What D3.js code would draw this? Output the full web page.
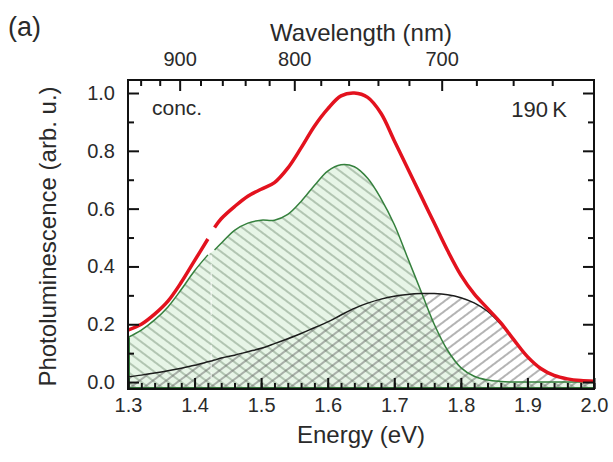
<!DOCTYPE html>
<html>
<head>
<meta charset="utf-8">
<script src="https://cdn.jsdelivr.net/npm/d3@7"></script>
<style>
  html, body { margin: 0; padding: 0; background: #fff; }
  svg { display: block; font-family: "Liberation Sans", Arial, sans-serif; }
</style>
</head>
<body>
<script>
// energies (eV); the 1.425 entry marks the break in the measured spectrum
var energy = [1.30, 1.32, 1.34, 1.36, 1.38, 1.40, 1.42, 1.425, 1.43, 1.44,
  1.46, 1.48, 1.50, 1.52, 1.54, 1.56, 1.58, 1.60, 1.62, 1.64,
  1.66, 1.68, 1.70, 1.72, 1.74, 1.76, 1.78, 1.80, 1.82, 1.84,
  1.86, 1.88, 1.90, 1.92, 1.94, 1.96, 1.98, 2.00];

var totalPL = [0.18, 0.20, 0.235, 0.28, 0.345, 0.42, 0.495, null, 0.535, 0.565,
  0.607, 0.643, 0.667, 0.69, 0.74, 0.81, 0.885, 0.945, 0.99, 1.00,
  0.985, 0.93, 0.835, 0.74, 0.645, 0.55, 0.455, 0.37, 0.305, 0.255,
  0.205, 0.145, 0.088, 0.047, 0.023, 0.011, 0.005, 0.003];

var greenPeak = [0.155, 0.18, 0.215, 0.26, 0.32, 0.385, 0.44, null, 0.457, 0.48,
  0.525, 0.55, 0.56, 0.56, 0.58, 0.625, 0.68, 0.73, 0.752, 0.745,
  0.705, 0.635, 0.545, 0.43, 0.315, 0.2, 0.11, 0.05, 0.02, 0.007,
  0.002, 0, 0, 0, 0, 0, 0, 0];

var blackPeak = [0.018, 0.024, 0.031, 0.039, 0.048, 0.058, 0.070, 0.073, 0.076, 0.083,
  0.093, 0.105, 0.117, 0.133, 0.15, 0.168, 0.188, 0.208, 0.232, 0.255,
  0.273, 0.287, 0.297, 0.303, 0.306, 0.306, 0.302, 0.292, 0.274, 0.245,
  0.2, 0.145, 0.088, 0.047, 0.023, 0.011, 0.005, 0.003];

var energyTicks = [1.3, 1.4, 1.5, 1.6, 1.7, 1.8, 1.9, 2.0];
var plTicks = [0.0, 0.2, 0.4, 0.6, 0.8, 1.0];
var wavelengthTicks = [900, 800, 700];
var wavelengthMinor = [940, 920, 880, 860, 840, 820, 780, 760, 740, 720, 680, 660, 640];

var width = 613, height = 462;
var padL = 128, padR = 594, padT = 80, padB = 389;
var hc = 1239.84;

var svg = d3.select('body').append('svg')
    .attr('width', width)
    .attr('height', height);

var x = d3.scaleLinear().domain([1.3, 2.0]).range([padL, padR]);
var y = d3.scaleLinear().domain([-0.024, 1.045]).range([padB, padT]);

var rows = energy.map(function(e, i) {
  return { e: e, red: totalPL[i], green: greenPeak[i], black: blackPeak[i] };
});
var greenRows = rows.filter(function(d) { return d.green != null; });

// hatch patterns
var defs = svg.append('defs');
function hatch(id, angle, bg, stroke) {
  var p = defs.append('pattern')
      .attr('id', id)
      .attr('patternUnits', 'userSpaceOnUse')
      .attr('width', 8).attr('height', 8)
      .attr('patternTransform', 'rotate(' + angle + ')');
  if (bg) p.append('rect').attr('width', 8).attr('height', 8).attr('fill', bg);
  p.append('line')
      .attr('x1', 0).attr('y1', 4).attr('x2', 8).attr('y2', 4)
      .attr('stroke', stroke).attr('stroke-width', 1);
}
hatch('hatchGreen', 37, '#e7f5e7', '#7d957d');
hatch('hatchBlack', -37, null, '#6a6a6a');

svg.append('clipPath').attr('id', 'plotClip')
  .append('rect')
    .attr('x', padL).attr('y', padT)
    .attr('width', padR - padL).attr('height', padB - padT);

var plot = svg.append('g').attr('clip-path', 'url(#plotClip)');

var base = y.domain()[0];
var smooth = d3.curveCatmullRom.alpha(0.5);

var greenArea = d3.area()
    .x(function(d) { return x(d.e); })
    .y0(y(base))
    .y1(function(d) { return y(d.green); })
    .curve(smooth);

var blackArea = d3.area()
    .x(function(d) { return x(d.e); })
    .y0(y(base))
    .y1(function(d) { return y(d.black); })
    .curve(smooth);

plot.append('path')
    .datum(greenRows)
    .attr('d', greenArea)
    .attr('fill', 'url(#hatchGreen)');

plot.append('path')
    .datum(rows)
    .attr('d', blackArea)
    .attr('fill', 'url(#hatchBlack)');

// faint streak left by the missing data point
plot.append('line')
    .attr('x1', x(energy[7])).attr('x2', x(energy[7]))
    .attr('y1', y(greenPeak[6])).attr('y2', y(0))
    .attr('stroke', '#fff').attr('stroke-width', 1.5)
    .attr('stroke-opacity', 0.6)
    .attr('stroke-dasharray', '6,3');

function curve(key) {
  return d3.line()
      .defined(function(d) { return d[key] != null; })
      .x(function(d) { return x(d.e); })
      .y(function(d) { return y(d[key]); })
      .curve(smooth);
}

// green outline with closed left edge down to the baseline
plot.append('path')
    .datum(rows)
    .attr('d', curve('green'))
    .attr('fill', 'none')
    .attr('stroke', '#35803d')
    .attr('stroke-width', 1.5);

plot.append('line')
    .attr('x1', x(1.3) + 1).attr('x2', x(1.3) + 1)
    .attr('y1', y(greenPeak[0])).attr('y2', y(base))
    .attr('stroke', '#35803d').attr('stroke-width', 2);

plot.append('line')
    .attr('x1', padL).attr('x2', padR)
    .attr('y1', padB - 1).attr('y2', padB - 1)
    .attr('stroke', '#2f6f35').attr('stroke-width', 2);

plot.append('path')
    .datum(rows)
    .attr('d', curve('black'))
    .attr('fill', 'none')
    .attr('stroke', '#1c1c1c')
    .attr('stroke-width', 1.5);

plot.append('path')
    .datum(rows)
    .attr('d', curve('red'))
    .attr('fill', 'none')
    .attr('stroke', '#e3121e')
    .attr('stroke-width', 3.5)
    .attr('stroke-linecap', 'butt');

// axes, ticks pointing inward
function styleAxis(g) {
  g.select('.domain').remove();
  g.selectAll('.tick line').attr('stroke', '#111').attr('stroke-width', 2);
  g.selectAll('.tick text')
      .attr('fill', '#2a2a2a')
      .style('font-size', '20px');
}

var minorE = d3.range(1.30, 2.001, 0.02);
var minorY = d3.range(0.1, 1.01, 0.2);

svg.append('g')
    .attr('transform', 'translate(0,' + padB + ')')
    .call(d3.axisBottom(x).tickValues(minorE).tickSize(-6).tickFormat(''))
    .call(styleAxis);

svg.append('g')
    .attr('transform', 'translate(0,' + padB + ')')
    .call(d3.axisBottom(x).tickValues(energyTicks).tickSize(-11).tickPadding(9)
      .tickFormat(d3.format('.1f')))
    .call(styleAxis);

svg.append('g')
    .attr('transform', 'translate(' + padL + ',0)')
    .call(d3.axisLeft(y).tickValues(minorY).tickSize(-6).tickFormat(''))
    .call(styleAxis);

svg.append('g')
    .attr('transform', 'translate(' + padL + ',0)')
    .call(d3.axisLeft(y).tickValues(plTicks).tickSize(-11).tickPadding(13)
      .tickFormat(d3.format('.1f')))
    .call(styleAxis);

svg.append('g')
    .attr('transform', 'translate(' + padR + ',0)')
    .call(d3.axisRight(y).tickValues(minorY).tickSize(-6).tickFormat(''))
    .call(styleAxis);

svg.append('g')
    .attr('transform', 'translate(' + padR + ',0)')
    .call(d3.axisRight(y).tickValues(plTicks).tickSize(-11).tickFormat(''))
    .call(styleAxis);

svg.append('g')
    .attr('transform', 'translate(0,' + padT + ')')
    .call(d3.axisTop(x).tickValues(wavelengthMinor.map(function(l) { return hc / l; }))
      .tickSize(-6).tickFormat(''))
    .call(styleAxis);

svg.append('g')
    .attr('transform', 'translate(0,' + padT + ')')
    .call(d3.axisTop(x).tickValues(wavelengthTicks.map(function(l) { return hc / l; }))
      .tickSize(-11).tickPadding(14)
      .tickFormat(function(e) { return Math.round(hc / e); }))
    .call(styleAxis);

// frame
svg.append('rect')
    .attr('x', padL).attr('y', padT)
    .attr('width', padR - padL).attr('height', padB - padT)
    .attr('fill', 'none')
    .attr('stroke', '#111')
    .attr('stroke-width', 2);

// labels
svg.append('text')
    .attr('x', (padL + padR) / 2).attr('y', 443)
    .attr('text-anchor', 'middle')
    .attr('fill', '#2a2a2a')
    .style('font-size', '24px')
    .text('Energy (eV)');

svg.append('text')
    .attr('x', (padL + padR) / 2).attr('y', 41)
    .attr('text-anchor', 'middle')
    .attr('fill', '#2a2a2a')
    .style('font-size', '24px')
    .text('Wavelength (nm)');

svg.append('text')
    .attr('transform', 'translate(56,' + ((padT + padB) / 2 + 2) + ') rotate(-90)')
    .attr('text-anchor', 'middle')
    .attr('fill', '#2a2a2a')
    .style('font-size', '24px')
    .text('Photoluminescence (arb. u.)');

svg.append('text')
    .attr('x', 8).attr('y', 36)
    .attr('fill', '#2a2a2a')
    .style('font-size', '27px')
    .text('(a)');

svg.append('text')
    .attr('x', 152).attr('y', 115)
    .attr('fill', '#2a2a2a')
    .style('font-size', '21px')
    .text('conc.');

svg.append('text')
    .attr('x', 567).attr('y', 117)
    .attr('text-anchor', 'end')
    .attr('fill', '#2a2a2a')
    .style('font-size', '22px')
    .text('190\u2009K');
</script>
</body>
</html>
